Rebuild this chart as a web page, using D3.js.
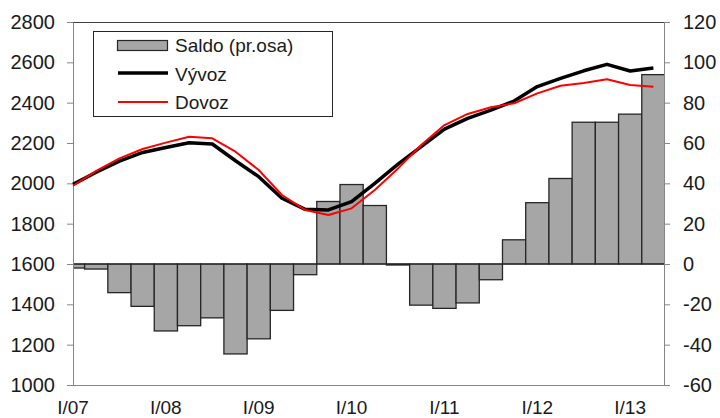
<!DOCTYPE html>
<html>
<head>
<meta charset="utf-8">
<script src="https://cdn.jsdelivr.net/npm/d3@7"></script>
<style>
    body { margin: 0; background: #fff; }
    svg { display: block; font-family: 'Liberation Sans', Arial, sans-serif; }
</style>
</head>
<body>
<div id="chart"></div>
<script>
/*global d3: false*/

// Quarters I/07 .. II/13
var quarters = ['I/07', 'II/07', 'III/07', 'IV/07', 'I/08', 'II/08', 'III/08', 'IV/08',
    'I/09', 'II/09', 'III/09', 'IV/09', 'I/10', 'II/10', 'III/10', 'IV/10',
    'I/11', 'II/11', 'III/11', 'IV/11', 'I/12', 'II/12', 'III/12', 'IV/12',
    'I/13', 'II/13'];

// Saldo, right axis
var saldo = [-2, -2.5, -14.2, -21, -33.2, -30.6, -26.7, -44.6, -37.1, -23, -5.3, 31,
    39.4, 29, -0.5, -20.4, -22, -19.3, -7.8, 12, 30.4, 42.4, 70.3, 70.3, 74.3, 93.9];

// Vyvoz and Dovoz, left axis
var vyvoz = [1995, 2055, 2110, 2153, 2178, 2201, 2195, 2112, 2033, 1926, 1871, 1868,
    1909, 2000, 2095, 2182, 2269, 2322, 2363, 2408, 2480, 2520, 2558, 2590, 2557, 2572];
var dovoz = [1988, 2062, 2124, 2170, 2202, 2231, 2223, 2157, 2066, 1942, 1868, 1843,
    1876, 1967, 2074, 2190, 2289, 2344, 2377, 2397, 2446, 2484, 2498, 2516, 2488, 2479];

var leftTicks = [1000, 1200, 1400, 1600, 1800, 2000, 2200, 2400, 2600, 2800];
var rightTicks = [-60, -40, -20, 0, 20, 40, 60, 80, 100, 120];

function plainNumber(d) {
    'use strict';
    return String(d);
}

function render() {
    'use strict';
    var svg, width, height, plot, x, yLeft, yRight, barWidth, line, axisL, axisR, g, legend;

    width = 720;
    height = 418;
    plot = {left: 73, right: 665, top: 22, bottom: 385};

    svg = d3.select('#chart').append('svg')
        .attr('width', width)
        .attr('height', height);

    x = d3.scaleLinear()
        .domain([0, quarters.length - 0.5])
        .range([plot.left, plot.right]);
    yLeft = d3.scaleLinear()
        .domain([1000, 2800])
        .range([plot.bottom, plot.top]);
    yRight = d3.scaleLinear()
        .domain([-60, 120])
        .range([plot.bottom, plot.top]);
    barWidth = x(1) - x(0);

    svg.append('clipPath')
        .attr('id', 'plot-clip')
        .append('rect')
        .attr('x', plot.left)
        .attr('y', plot.top)
        .attr('width', plot.right - plot.left)
        .attr('height', plot.bottom - plot.top);

    // top frame line
    svg.append('line')
        .attr('x1', plot.left)
        .attr('x2', plot.right)
        .attr('y1', plot.top + 0.5)
        .attr('y2', plot.top + 0.5)
        .attr('stroke', '#404040')
        .attr('stroke-width', 1);

    // Bars
    svg.append('g')
        .attr('clip-path', 'url(#plot-clip)')
        .selectAll('rect')
        .data(saldo)
        .enter()
        .append('rect')
        .attr('x', function(d, i) { return x(i) - barWidth / 2; })
        .attr('y', function(d) { return Math.min(yRight(d), yRight(0)); })
        .attr('width', barWidth)
        .attr('height', function(d) { return Math.abs(yRight(d) - yRight(0)); })
        .attr('fill', '#a6a6a6')
        .attr('stroke', '#262626')
        .attr('stroke-width', 1.3);

    // zero line
    svg.append('line')
        .attr('x1', plot.left)
        .attr('x2', plot.right)
        .attr('y1', yRight(0))
        .attr('y2', yRight(0))
        .attr('stroke', '#262626')
        .attr('stroke-width', 1.2);

    // Axes
    axisL = d3.axisLeft(yLeft).tickValues(leftTicks).tickFormat(plainNumber)
        .tickSize(6).tickPadding(12);
    axisR = d3.axisRight(yRight).tickValues(rightTicks).tickFormat(plainNumber)
        .tickSize(6).tickPadding(13);

    g = svg.append('g')
        .attr('transform', 'translate(' + plot.left + ',0)')
        .call(axisL);
    styleAxis(g);
    g.selectAll('text').attr('text-anchor', 'end');

    g = svg.append('g')
        .attr('transform', 'translate(' + (plot.right - 1) + ',0)')
        .call(axisR);
    styleAxis(g);

    svg.append('line')
        .attr('x1', plot.left)
        .attr('x2', plot.right)
        .attr('y1', plot.bottom + 0.5)
        .attr('y2', plot.bottom + 0.5)
        .attr('stroke', '#868686')
        .attr('stroke-width', 1);

    // x labels
    svg.append('g')
        .selectAll('text')
        .data(quarters.map(function(q, i) { return {q: q, i: i}; })
            .filter(function(d) { return d.q.indexOf('I/') === 0; }))
        .enter()
        .append('text')
        .attr('x', function(d) { return x(d.i); })
        .attr('y', 414)
        .attr('text-anchor', 'middle')
        .attr('font-size', '19px')
        .attr('fill', '#1a1a1a')
        .text(function(d) { return d.q; });

    // Lines
    line = function(scale) {
        return d3.line()
            .x(function(d, i) { return x(i); })
            .y(function(d) { return scale(d); });
    };

    svg.append('path')
        .datum(vyvoz)
        .attr('d', line(yLeft))
        .attr('fill', 'none')
        .attr('stroke', '#000')
        .attr('stroke-width', 3.5)
        .attr('stroke-linejoin', 'round');

    svg.append('path')
        .datum(dovoz)
        .attr('d', line(yLeft))
        .attr('fill', 'none')
        .attr('stroke', '#ff0000')
        .attr('stroke-width', 2)
        .attr('stroke-linejoin', 'round');

    // Legend
    legend = svg.append('g');
    legend.append('rect')
        .attr('x', 93.5)
        .attr('y', 31.5)
        .attr('width', 239)
        .attr('height', 85)
        .attr('fill', '#fff')
        .attr('stroke', '#262626')
        .attr('stroke-width', 1);
    legend.append('rect')
        .attr('x', 117.5)
        .attr('y', 40.5)
        .attr('width', 50)
        .attr('height', 10)
        .attr('fill', '#a6a6a6')
        .attr('stroke', '#262626')
        .attr('stroke-width', 1.2);
    legend.append('line')
        .attr('x1', 118).attr('x2', 168)
        .attr('y1', 73).attr('y2', 73)
        .attr('stroke', '#000')
        .attr('stroke-width', 3.5);
    legend.append('line')
        .attr('x1', 118).attr('x2', 168)
        .attr('y1', 102).attr('y2', 102)
        .attr('stroke', '#ff0000')
        .attr('stroke-width', 2);
    legend.selectAll('text')
        .data(['Saldo (pr.osa)', 'Vývoz', 'Dovoz'])
        .enter()
        .append('text')
        .attr('x', 175)
        .attr('y', function(d, i) { return 52 + i * 28.5; })
        .attr('font-size', '19px')
        .attr('fill', '#1a1a1a')
        .text(function(d) { return d; });

    return svg;
}

function styleAxis(g) {
    'use strict';
    g.select('.domain').attr('stroke', '#868686');
    g.selectAll('.tick line').attr('stroke', '#868686');
    g.selectAll('text')
        .attr('font-size', '20px')
        .attr('font-family', "'Liberation Sans', Arial, sans-serif")
        .attr('fill', '#1a1a1a');
}

render();
</script>
</body>
</html>
